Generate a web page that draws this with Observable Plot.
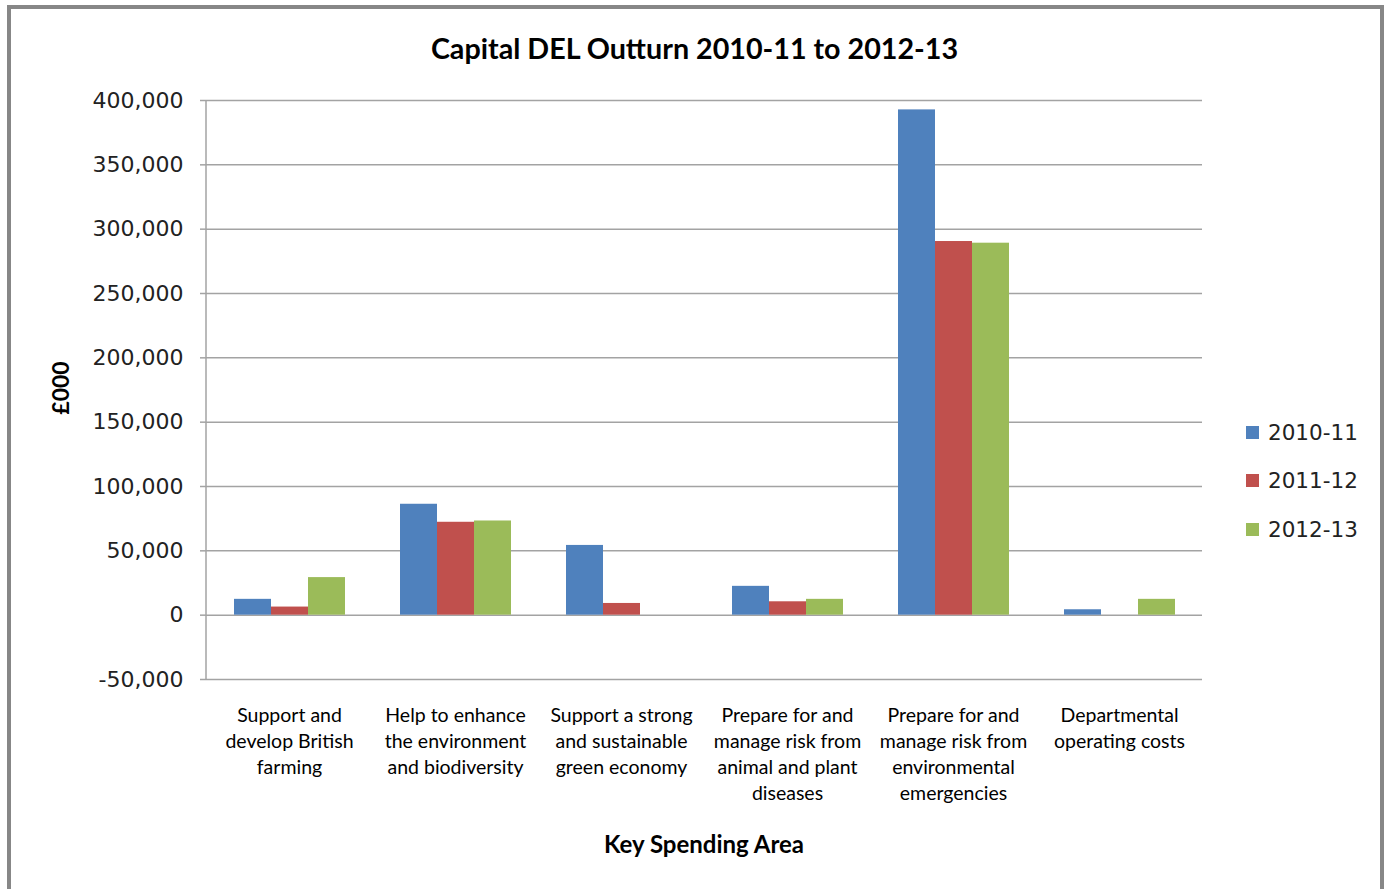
<!DOCTYPE html>
<html>
<head>
<meta charset="utf-8">
<script src="https://cdn.jsdelivr.net/npm/d3@7"></script>
<script src="https://cdn.jsdelivr.net/npm/@observablehq/plot@0.6"></script>
<style>
  body { margin: 0; background: #fff; }
  #wrap { position: relative; width: 1389px; height: 889px; overflow: hidden; background: #fff; }
  #chart { position: absolute; left: 0; top: 0; }
  #border { position: absolute; left: 7px; top: 5px; width: 1377px; height: 920px; border: 4px solid #878787; box-sizing: border-box; pointer-events: none; }
  #title { position: absolute; left: 0; top: 33px; width: 1389px; text-align: center; font: bold 28.7px Lato, sans-serif; line-height: 30px; color: #000; }
  #ylabel { position: absolute; left: 60px; top: 388px; transform: translate(-50%, -50%) rotate(-90deg); font: bold 23px Lato, sans-serif; color: #000; white-space: nowrap; }
  #xlabel { position: absolute; left: 704px; top: 843px; transform: translate(-50%, -50%); font: bold 24px Lato, sans-serif; color: #000; white-space: nowrap; }
  #legend { position: absolute; left: 1246px; top: 418px; font: 21.5px "DejaVu Sans", sans-serif; color: #222; }
  .item { display: flex; align-items: center; height: 28px; margin-bottom: 20.5px; }
  .sw { width: 13px; height: 13px; margin-right: 9px; }
</style>
</head>
<body>
<div id="wrap">
  <div id="chart"></div>
  <div id="title"></div>
  <div id="ylabel"></div>
  <div id="xlabel"></div>
  <div id="legend"></div>
  <div id="border"></div>
</div>
<script>
const titleText = "Capital DEL Outturn 2010-11 to 2012-13";
const yLabel = "£000";
const xLabel = "Key Spending Area";

const categories = [
  "Support and\ndevelop British\nfarming",
  "Help to enhance\nthe environment\nand biodiversity",
  "Support a strong\nand sustainable\ngreen economy",
  "Prepare for and\nmanage risk from\nanimal and plant\ndiseases",
  "Prepare for and\nmanage risk from\nenvironmental\nemergencies",
  "Departmental\noperating costs"
];
const series = ["2010-11", "2011-12", "2012-13"];
const colors = ["#4F81BD", "#C0504D", "#9BBB59"];

const values2010 = [12300, 86200, 54200, 22400, 392700, 4200];
const values2011 = [6300, 72200, 9100, 10400, 290400, 0];
const values2012 = [29200, 73200, 0, 12300, 289100, 12300];

const yTicks = [-50000, 0, 50000, 100000, 150000, 200000, 250000, 300000, 350000, 400000];

const seriesValues = [values2010, values2011, values2012];
const rows = [];
categories.forEach((c, i) => {
  series.forEach((s, j) => rows.push({cat: c, series: s, value: seriesValues[j][i]}));
});

const gridColor = "#a3a3a3";
const fmt = d3.format(",");
const tickFormat = (d) => fmt(d).replace("\u2212", "-");

const chart = Plot.plot({
  width: 1389,
  height: 889,
  marginLeft: 206,
  marginRight: 187,
  marginTop: 100,
  marginBottom: 210,
  style: {background: "transparent", overflow: "visible"},
  fx: {domain: categories, paddingInner: 0, paddingOuter: 0, label: null},
  x: {domain: series, paddingInner: 0, paddingOuter: 0.743, axis: null},
  y: {domain: [-50000, 400000], label: null},
  color: {domain: series, range: colors},
  marks: [
    Plot.gridY(yTicks, {stroke: gridColor, strokeOpacity: 1, strokeWidth: 1.5}),
    Plot.barY(rows, {fx: "cat", x: "series", y: "value", fill: "series", inset: 0}),
    Plot.axisY(yTicks, {
      tickFormat,
      tickSize: 6,
      tickPadding: 17,
      stroke: gridColor,
      strokeWidth: 1.5,
      fontSize: 22,
      fontFamily: "DejaVu Sans",
      fill: "#222",
      label: null
    }),
    Plot.axisFx({
      anchor: "bottom",
      tickSize: 0,
      tickPadding: 24,
      fontSize: 19.5,
      fontFamily: "Lato",
      lineHeight: 1.333,
      fill: "#000",
      label: null
    })
  ]
});

document.getElementById("chart").appendChild(chart);

// vertical y-axis line at left edge of the first facet, positioned via scales
const fxScale = chart.scale("fx");
const yScale = chart.scale("y");
const x0 = fxScale.apply(categories[0]);
d3.select(chart).append("line")
  .attr("x1", x0).attr("x2", x0)
  .attr("y1", yScale.apply(yTicks[yTicks.length - 1]))
  .attr("y2", yScale.apply(yTicks[0]))
  .attr("stroke", gridColor).attr("stroke-width", 1.5);

document.getElementById("title").textContent = titleText;
document.getElementById("ylabel").textContent = yLabel;
document.getElementById("xlabel").textContent = xLabel;

const legend = document.getElementById("legend");
series.forEach((s, i) => {
  const item = document.createElement("div");
  item.className = "item";
  const sw = document.createElement("div");
  sw.className = "sw";
  sw.style.background = colors[i];
  const label = document.createElement("span");
  label.textContent = s;
  item.appendChild(sw);
  item.appendChild(label);
  legend.appendChild(item);
});
</script>
</body>
</html>
